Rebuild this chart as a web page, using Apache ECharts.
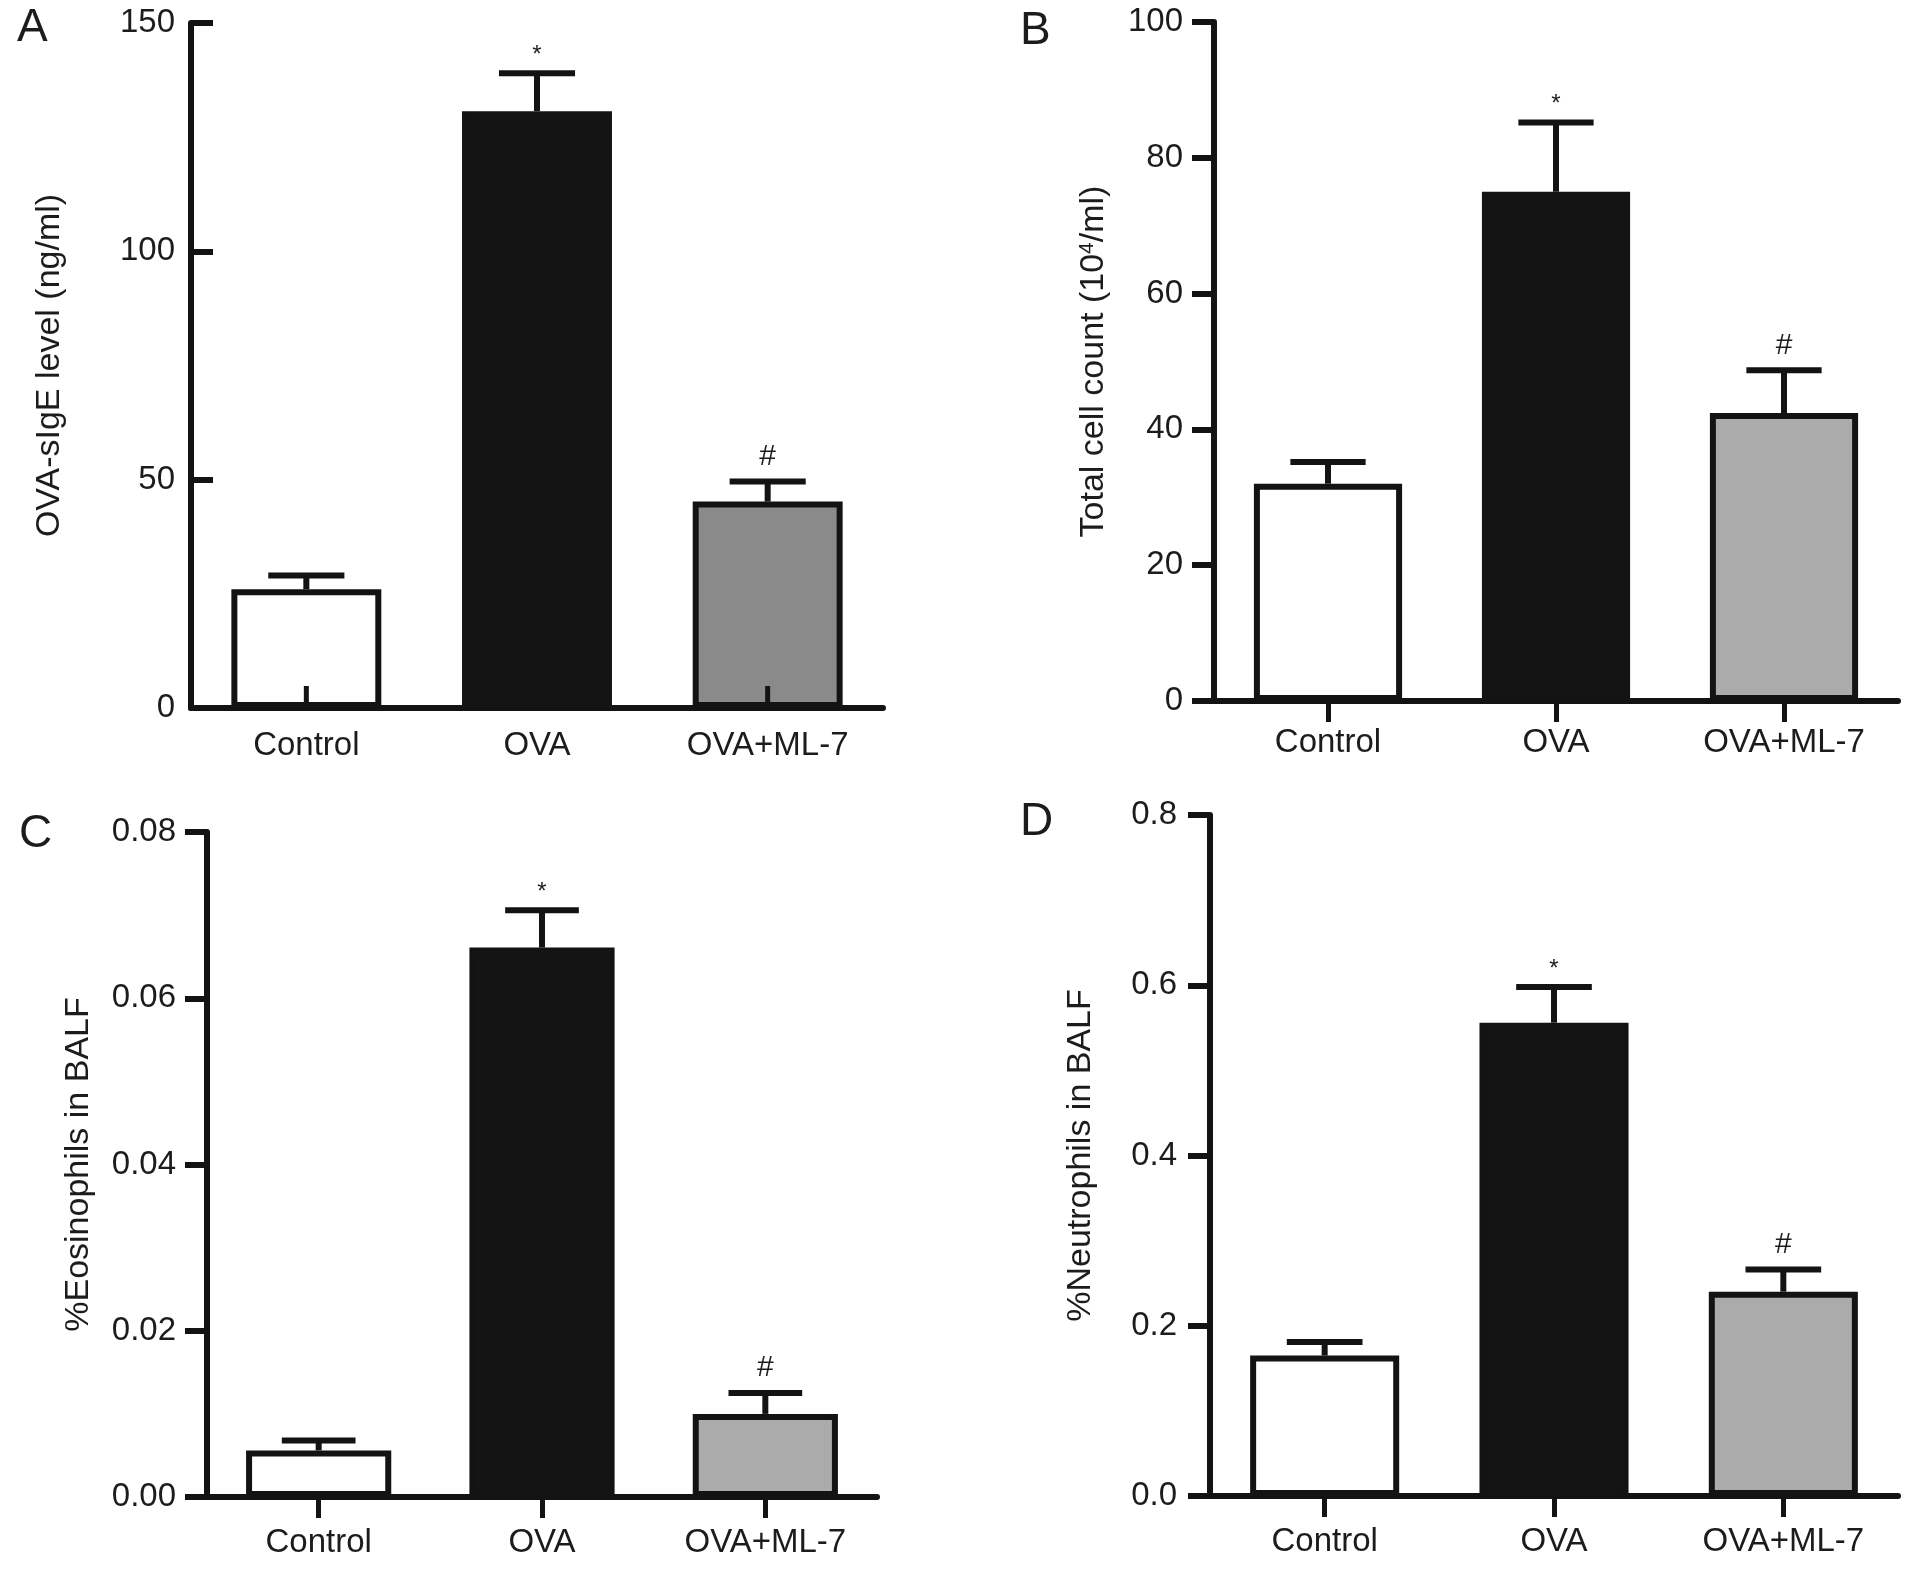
<!DOCTYPE html>
<html>
<head>
<meta charset="utf-8">
<script src="https://cdn.jsdelivr.net/npm/echarts@6/dist/echarts.min.js"></script>
<style>
  html, body { margin: 0; padding: 0; background: #fff; }
  #main { width: 1913px; height: 1569px; }
</style>
</head>
<body>
<div id="main"></div>
<script>
  const categories = ['Control', 'OVA', 'OVA+ML-7'];
  const marks = ['', '*', '#'];

  // A: OVA-sIgE level (ng/ml)
  const sigE = [26.0, 130.7, 45.2];
  const sigEErr = [29.0, 139.0, 49.6];
  // B: total cell count (10^4/ml)
  const cells = [32.0, 75.0, 42.4];
  const cellsErr = [35.2, 85.2, 48.7];
  // C: %Eosinophils in BALF
  const eos = [0.0056, 0.0661, 0.0100];
  const eosErr = [0.0068, 0.0706, 0.0125];
  // D: %Neutrophils in BALF
  const neut = [0.165, 0.556, 0.240];
  const neutErr = [0.181, 0.598, 0.266];

  const FONT = '"Liberation Sans", Arial, Helvetica, sans-serif';
  const INK = '#131313';
  const TXT = '#1c1c1c';
  const FS = 33;

  const chart = echarts.init(document.getElementById('main'));

  function xAxisFor(grid, showTick, margin) {
    return {
      type: 'category', gridIndex: grid, data: categories, zlevel: 1,
      axisLine: { lineStyle: { color: INK, width: 6 } },
      axisTick: { show: showTick, alignWithLabel: true, length: 21, lineStyle: { color: INK, width: 5 } },
      axisLabel: { color: TXT, fontSize: FS, fontFamily: FONT, margin: margin },
      splitLine: { show: false }
    };
  }

  function yAxisFor(grid, max, step, name, nameGap, inside, margin, digits) {
    return {
      type: 'value', gridIndex: grid, min: 0, max: max, interval: step, zlevel: 1,
      name: name, nameLocation: 'middle', nameGap: nameGap,
      nameTextStyle: {
        color: TXT, fontSize: FS + 1, fontFamily: FONT,
        rich: { sup: { fontSize: 21, fontFamily: FONT, color: TXT, verticalAlign: 'top', lineHeight: 32 } }
      },
      axisLine: { show: true, lineStyle: { color: INK, width: 6 } },
      axisTick: { show: true, inside: inside, length: 22, lineStyle: { color: INK, width: 6 } },
      axisLabel: {
        color: TXT, fontSize: FS, fontFamily: FONT, margin: margin,
        formatter: v => v.toFixed(digits)
      },
      splitLine: { show: false }
    };
  }

  function barsFor(grid, values, grey) {
    const fills = ['#ffffff', '#141414', grey];
    return {
      type: 'bar', xAxisIndex: grid, yAxisIndex: grid,
      barWidth: '65%',
      data: values.map((v, i) => ({ value: v, itemStyle: { color: fills[i] } })),
      itemStyle: { borderColor: INK, borderWidth: 6 },
      z: 2
    };
  }

  // error bar (upper only), significance mark, and optional inward x tick
  function errFor(grid, values, errs, innerTick) {
    return {
      type: 'custom', xAxisIndex: grid, yAxisIndex: grid, z: 3,
      data: values.map((v, i) => [i, v, errs[i]]),
      renderItem: function (params, api) {
        const i = api.value(0);
        const lo = api.coord([i, api.value(1)]);
        const hi = api.coord([i, api.value(2)]);
        const base = api.coord([i, 0]);
        const half = api.size([1, 0])[0] * 0.165;
        const st = { stroke: INK, lineWidth: 6 };
        const m = marks[params.dataIndex];
        const kids = [
          { type: 'line', shape: { x1: lo[0], y1: lo[1], x2: hi[0], y2: hi[1] }, style: st },
          { type: 'line', shape: { x1: hi[0] - half, y1: hi[1], x2: hi[0] + half, y2: hi[1] }, style: st }
        ];
        if (innerTick) {
          kids.push({ type: 'line', shape: { x1: base[0], y1: base[1], x2: base[0], y2: base[1] - 22 },
            style: { stroke: INK, lineWidth: 5 } });
        }
        if (m) {
          kids.push({
            type: 'text',
            x: hi[0], y: hi[1] - (m === '*' ? 6 : 10),
            style: {
              text: m, fill: TXT, fontFamily: FONT,
              fontSize: m === '*' ? 24 : 30,
              align: 'center', verticalAlign: 'bottom'
            }
          });
        }
        return { type: 'group', children: kids };
      }
    };
  }

  function panelLabel(text, left, top) {
    return { type: 'text', left: left, top: top, style: { text: text, fontSize: 46, fontFamily: FONT, fill: TXT } };
  }

  const option = {
    backgroundColor: '#ffffff',
    animation: false,
    grid: [
      { left: 191, top: 23, width: 692, height: 685 },
      { left: 1214, top: 22, width: 684, height: 679 },
      { left: 207, top: 832, width: 670, height: 665 },
      { left: 1210, top: 815, width: 688, height: 681 }
    ],
    xAxis: [
      xAxisFor(0, false, 21),
      xAxisFor(1, true, 25),
      xAxisFor(2, true, 29),
      xAxisFor(3, true, 29)
    ],
    yAxis: [
      yAxisFor(0, 150, 50, 'OVA-sIgE level (ng/ml)', 124, true, 16, 0),
      yAxisFor(1, 100, 20, 'Total cell count (10{sup|4}/ml)', 103, false, 31, 0),
      yAxisFor(2, 0.08, 0.02, '%Eosinophils in BALF', 111, false, 31, 2),
      yAxisFor(3, 0.8, 0.2, '%Neutrophils in BALF', 112, false, 33, 1)
    ],
    graphic: [
      panelLabel('A', 17, 5),
      panelLabel('B', 1020, 8),
      panelLabel('C', 19, 811),
      panelLabel('D', 1020, 799)
    ],
    series: [
      barsFor(0, sigE, '#8a8a8a'), errFor(0, sigE, sigEErr, true),
      barsFor(1, cells, '#ababab'), errFor(1, cells, cellsErr, false),
      barsFor(2, eos, '#ababab'), errFor(2, eos, eosErr, false),
      barsFor(3, neut, '#ababab'), errFor(3, neut, neutErr, false)
    ]
  };

  chart.setOption(option);
</script>
</body>
</html>
